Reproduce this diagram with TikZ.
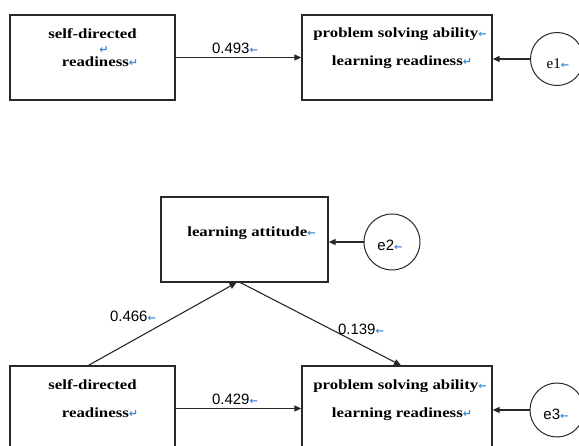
\documentclass[tikz,border=0pt]{standalone}
\usepackage{fontspec}
\setmainfont{Liberation Serif}
\newfontfamily\boxfont[FakeStretch=1.2]{Liberation Serif}
\newfontfamily\numfont{Liberation Sans}
\newfontfamily\symfont{DejaVu Sans}
\usetikzlibrary{arrows.meta,calc}
\definecolor{markblue}{RGB}{60,135,215}
\definecolor{linegray}{RGB}{40,40,40}
\newcommand{\larr}{{\symfont\bfseries\color{markblue}\fontsize{10}{10}\selectfont ←}}
\newcommand{\retm}{{\symfont\bfseries\color{markblue}\fontsize{11}{11}\selectfont ↵}}
\tikzset{
  box/.style={draw=linegray, line width=1.3pt, minimum height=85pt, inner sep=0pt},
  err/.style={circle, draw=linegray, line width=1pt, inner sep=0pt, minimum size=54pt},
  lbl/.style={font=\boxfont\bfseries\fontsize{14}{14}\selectfont, anchor=base, inner sep=0pt},
  num/.style={font=\numfont\fontsize{15}{15}\selectfont, anchor=base, inner sep=0pt},
  etxt/.style={anchor=base, inner sep=0pt},
  conn/.style={draw=linegray, line width=1.1pt, -{Triangle[length=7pt,width=6pt]}}
}
\begin{document}
\begin{tikzpicture}[x=1pt,y=-1pt]
\useasboundingbox (0,0) rectangle (579,446);
% top model
\node[box, minimum width=165pt] (sd1) at (92.5,57.5) {};
\node[box, minimum width=190pt] (ps1) at (397,57.5) {};
\node[err, minimum size=53pt] (e1) at (557,59) {};
\node[lbl] (sd1a) at (92.5,39) {self-directed};
\node[lbl] (sd1b) at (100,67) {readiness\retm};
\node[inner sep=0pt] (sd1m) at (104,50) {\retm};
\node[lbl] (ps1a) at (400,38) {problem solving ability\larr};
\node[lbl] (ps1b) at (402,66) {learning readiness\retm};
\node[etxt, font=\fontsize{15}{15}\selectfont] (e1t) at (558,69) {e1\larr};
\draw[conn] (sd1) -- (ps1);
\node[num] (w1) at (235,54) {0.493\larr};
\draw[conn] (e1.west) -- (e1.west -| ps1.east);
% bottom model
\node[box, minimum width=167pt] (la) at (244.5,239.5) {};
\node[lbl] (lat) at (251.5,237) {learning attitude\larr};
\node[err, minimum size=56pt] (e2) at (392,242) {};
\node[etxt, font=\numfont\fontsize{15}{15}\selectfont] (e2t) at (390,251) {e2\larr};
\draw[conn] (e2.west) -- (e2.west -| la.east);
\node[box, minimum width=165pt] (sd2) at (92.5,408.5) {};
\node[box, minimum width=190pt] (ps2) at (397,408.5) {};
\node[err] (e3) at (557,410) {};
\node[lbl] (sd2a) at (92.5,390) {self-directed};
\node[lbl] (sd2b) at (100,418) {readiness\retm};
\node[lbl] (ps2a) at (400,390) {problem solving ability\larr};
\node[lbl] (ps2b) at (402,418) {learning readiness\retm};
\node[etxt, font=\numfont\fontsize{15}{15}\selectfont] (e3t) at (556,420) {e3\larr};
\draw[conn] (sd2) -- (ps2);
\node[num] (w2) at (235,405) {0.429\larr};
\draw[conn] (e3.west) -- (e3.west -| ps2.east);
\draw[conn] ($(sd2.north)+(-4,0)$) -- ($(la.south)+(-8,0)$);
\draw[conn] ($(la.south)+(-4,0)$) -- ($(ps2.north)+(4,0)$);
\node[num] (w3) at (133,322) {0.466\larr};
\node[num] (w4) at (361,335) {0.139\larr};
\end{tikzpicture}
\end{document}
